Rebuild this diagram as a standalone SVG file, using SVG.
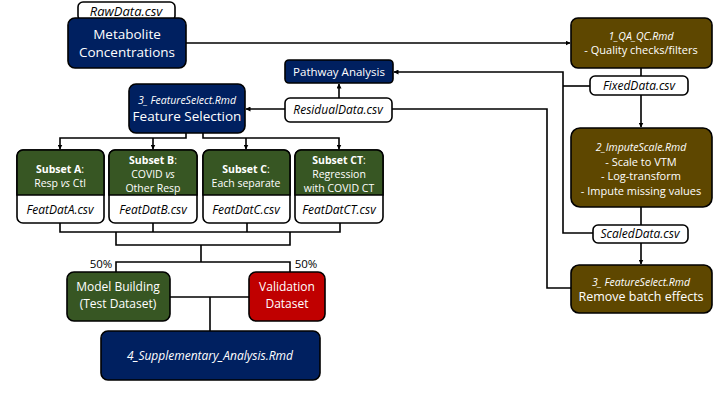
<svg xmlns="http://www.w3.org/2000/svg" width="720" height="405" viewBox="0 0 720 405">
<defs>
<marker id="arr" viewBox="0 0 10 10" refX="9" refY="5" markerWidth="5" markerHeight="5" orient="auto" markerUnits="userSpaceOnUse"><path d="M0,0 L10,5 L0,10 Z" fill="#000"/></marker>
<style>
text{font-family:"Open Sans","Liberation Sans",sans-serif;text-anchor:middle}
.nv{fill:#002060;stroke:#000;stroke-width:1.6}
.br{fill:#5e4700;stroke:#000;stroke-width:1.6}
.gr{fill:#375623;stroke:#000;stroke-width:1.6}
.rd{fill:#c00000;stroke:#000;stroke-width:1.6}
.wh{fill:#fff;stroke:#000;stroke-width:1.6}
.w{fill:#fff}
.k{fill:#000}
.it{font-style:italic}
.b{font-weight:bold}
.s{font-size:10.5px}
.c{fill:none;stroke:#000;stroke-width:1.6}
</style>
</defs>
<g id="connectors">
<path class="c" d="M186 43 H570" marker-end="url(#arr)"/>
<path class="c" d="M641 68 V76 M641 95 V127" marker-end="url(#arr)"/>
<path class="c" d="M590 86 H563"/>
<path class="c" d="M593 233 H563 V72 H394" marker-end="url(#arr)"/>
<path class="c" d="M641 207 V225 M641 243 V264" marker-end="url(#arr)"/>
<path class="c" d="M571 288 H547 V109 H392"/>
<path class="c" d="M285 109 H246" marker-end="url(#arr)"/>
<path class="c" d="M339 98 V84" marker-end="url(#arr)"/>
<path class="c" d="M186 133 V138 H60 V149" marker-end="url(#arr)"/>
<path class="c" d="M153 138 V149" marker-end="url(#arr)"/>
<path class="c" d="M203 133 V138 H339 V149" marker-end="url(#arr)"/>
<path class="c" d="M246 138 V149" marker-end="url(#arr)"/>
<path class="c" d="M60 223 V232 H340 V223 M153 223 V232 M247 223 V232"/>
<path class="c" d="M116 232 V245 H290 V232 M201 245 V262 M116 272 V262 H290 V272"/>
<path class="c" d="M170 297 H249 M210 297 V331"/>
</g>
<g id="raw-data">
<rect class="wh" x="78" y="2" width="97" height="19" rx="5"/>
<text class="it k" x="126" y="16" font-size="13">RawData.csv</text>
</g>
<g id="metabolite">
<rect class="nv" x="68" y="18" width="118" height="50" rx="7"/>
<text class="w" x="127" y="38.5" font-size="13.5">Metabolite</text>
<text class="w" x="127" y="57" font-size="13.5">Concentrations</text>
</g>
<g id="qa-qc">
<rect class="br" x="571" y="18" width="141" height="50" rx="7"/>
<text class="w it" x="641" y="40" font-size="10.5">1_QA_QC.Rmd</text>
<text class="w" x="641" y="54" font-size="11">- Quality checks/filters</text>
</g>
<g id="fixed-data">
<rect class="wh" x="590" y="76" width="98" height="19" rx="5"/>
<text class="it k" x="639" y="90" font-size="12">FixedData.csv</text>
</g>
<g id="impute-scale">
<rect class="br" x="571" y="128" width="141" height="79" rx="9"/>
<text class="w it" x="641" y="151" font-size="10.5">2_ImputeScale.Rmd</text>
<text class="w" x="641" y="166" font-size="11">- Scale to VTM</text>
<text class="w" x="641" y="180" font-size="11">- Log-transform</text>
<text class="w" x="641" y="195" font-size="11">- Impute missing values</text>
</g>
<g id="scaled-data">
<rect class="wh" x="593" y="225" width="95" height="18" rx="5"/>
<text class="it k" x="640" y="238" font-size="12">ScaledData.csv</text>
</g>
<g id="remove-batch">
<rect class="br" x="571" y="265" width="141" height="48" rx="8"/>
<text class="w it" x="641" y="286" font-size="10.5">3_ FeatureSelect.Rmd</text>
<text class="w" x="641" y="301" font-size="12.5">Remove batch effects</text>
</g>
<g id="pathway">
<rect class="nv" x="285" y="60" width="108" height="23" rx="4"/>
<text class="w" x="339" y="76" font-size="11.5">Pathway Analysis</text>
</g>
<g id="residual-data">
<rect class="wh" x="285" y="98" width="107" height="24" rx="5"/>
<text class="it k" x="338" y="114" font-size="12">ResidualData.csv</text>
</g>
<g id="feature-selection">
<rect class="nv" x="129" y="84" width="116" height="49" rx="7"/>
<text class="w it" x="187" y="104" font-size="10.5">3_ FeatureSelect.Rmd</text>
<text class="w" x="187" y="121" font-size="13.5">Feature Selection</text>
</g>
<g id="subset-a">
<rect class="wh" x="17" y="150" width="87" height="73" rx="6"/>
<path class="gr" d="M17 195 V156 A6 6 0 0 1 23 150 H98 A6 6 0 0 1 104 156 V195 Z"/>
<text class="w s" x="60" y="173"><tspan class="b">Subset A</tspan>:</text>
<text class="w s" x="60" y="187">Resp <tspan class="it">vs</tspan> Ctl</text>
<text class="it k" x="60" y="214" font-size="12">FeatDatA.csv</text>
</g>
<g id="subset-b">
<rect class="wh" x="109" y="150" width="88" height="73" rx="6"/>
<path class="gr" d="M109 195 V156 A6 6 0 0 1 115 150 H191 A6 6 0 0 1 197 156 V195 Z"/>
<text class="w s" x="153" y="164"><tspan class="b">Subset B</tspan>:</text>
<text class="w s" x="153" y="178">COVID <tspan class="it">vs</tspan></text>
<text class="w s" x="153" y="192">Other Resp</text>
<text class="it k" x="153" y="214" font-size="12">FeatDatB.csv</text>
</g>
<g id="subset-c">
<rect class="wh" x="203" y="150" width="87" height="73" rx="6"/>
<path class="gr" d="M203 195 V156 A6 6 0 0 1 209 150 H284 A6 6 0 0 1 290 156 V195 Z"/>
<text class="w s" x="246" y="173"><tspan class="b">Subset C</tspan>:</text>
<text class="w s" x="246" y="187">Each separate</text>
<text class="it k" x="246" y="214" font-size="12">FeatDatC.csv</text>
</g>
<g id="subset-ct">
<rect class="wh" x="295" y="150" width="88" height="73" rx="6"/>
<path class="gr" d="M295 195 V156 A6 6 0 0 1 301 150 H377 A6 6 0 0 1 383 156 V195 Z"/>
<text class="w s" x="339" y="164"><tspan class="b">Subset CT</tspan>:</text>
<text class="w s" x="339" y="178">Regression</text>
<text class="w s" x="339" y="192">with COVID CT</text>
<text class="it k" x="339" y="214" font-size="12">FeatDatCT.csv</text>
</g>
<g id="pct-labels">
<text class="k" x="101" y="268" font-size="11.5">50%</text>
<text class="k" x="306" y="268" font-size="11.5">50%</text>
</g>
<g id="model-building">
<rect class="gr" x="67" y="272" width="103" height="49" rx="7"/>
<text class="w" x="118" y="291" font-size="12">Model Building</text>
<text class="w" x="118" y="308" font-size="12">(Test Dataset)</text>
</g>
<g id="validation">
<rect class="rd" x="249" y="272" width="76" height="49" rx="7"/>
<text class="w" x="287" y="291" font-size="12">Validation</text>
<text class="w" x="287" y="308" font-size="12">Dataset</text>
</g>
<g id="supplementary">
<rect class="nv" x="101" y="331" width="219" height="49" rx="7"/>
<text class="w it" x="210" y="360" font-size="12">4_Supplementary_Analysis.Rmd</text>
</g>
</svg>
